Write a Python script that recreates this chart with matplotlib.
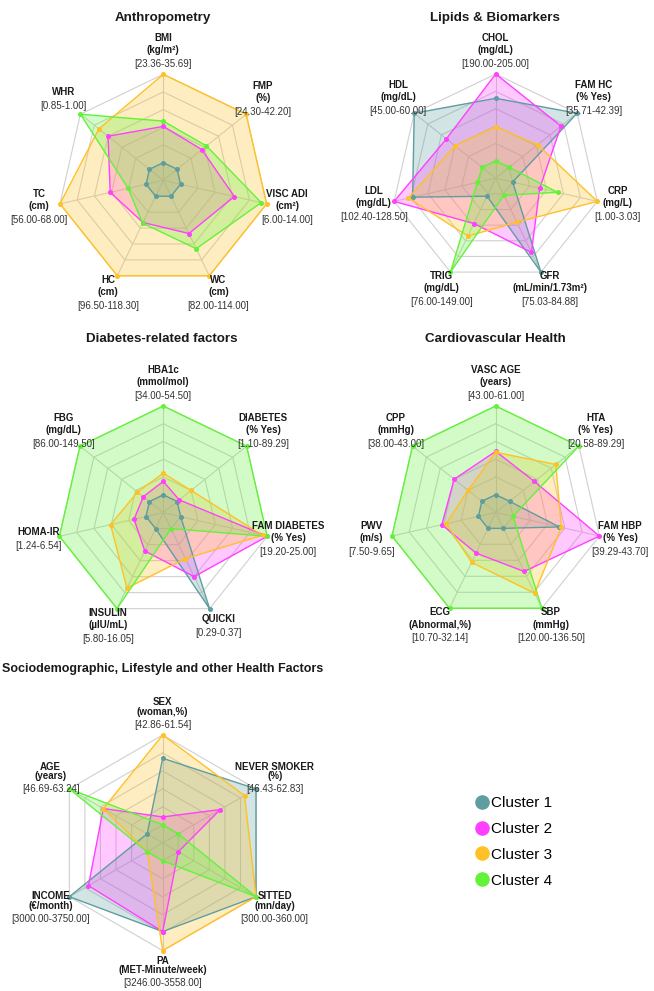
import matplotlib
matplotlib.use("Agg")
import matplotlib.pyplot as plt
from matplotlib.lines import Line2D
import numpy as np

plt.rcParams['font.family'] = ['Liberation Sans', 'DejaVu Sans']

W, H = 654, 991

clusters = ["Cluster 1", "Cluster 2", "Cluster 3", "Cluster 4"]
colors = ["#5F9EA0", "#FF40FF", "#FFC125", "#63F23A"]

# ---------------- Anthropometry ----------------
anthro_vars = ["BMI", "WHR", "TC", "HC", "WC", "VISC ADI", "FMP"]
anthro_units = ["(kg/m²)", "", "(cm)", "(cm)", "(cm)", "(cm²)", "(%)"]
anthro_min = [23.36, 0.85, 56.00, 96.50, 82.00, 6.00, 24.30]
anthro_max = [35.69, 1.00, 68.00, 118.30, 114.00, 14.00, 42.20]
anthro_c1 = [23.36, 0.85, 56.00, 96.50, 82.00, 6.00, 24.30]
anthro_c2 = [28.42, 0.94, 61.0, 103.7, 97.0, 11.0, 30.7]
anthro_c3 = [35.69, 0.96, 68.00, 118.30, 114.00, 14.00, 42.20]
anthro_c4 = [29.16, 1.00, 58.5, 103.9, 103.1, 13.5, 31.9]

# ---------------- Lipids & Biomarkers ----------------
lipid_vars = ["CHOL", "HDL", "LDL", "TRIG", "GFR", "CRP", "FAM HC"]
lipid_units = ["(mg/dL)", "(mg/dL)", "(mg/dL)", "(mg/dL)", "(mL/min/1.73m²)", "(mg/L)", "(% Yes)"]
lipid_min = [190.00, 45.00, 102.40, 76.00, 75.03, 1.00, 35.71]
lipid_max = [205.00, 60.00, 128.50, 149.00, 84.88, 3.03, 42.39]
lipid_c1 = [200.8, 60.0, 122.8, 78.2, 84.88, 1.00, 42.39]
lipid_c2 = [205.0, 52.9, 128.5, 103.7, 82.4, 1.65, 40.8]
lipid_c3 = [195.9, 51.0, 124.1, 115.4, 78.6, 3.03, 38.5]
lipid_c4 = [190.0, 45.0, 102.8, 149.0, 75.2, 2.08, 35.71]

# ---------------- Diabetes-related factors ----------------
diab_vars = ["HBA1c", "FBG", "HOMA-IR", "INSULIN", "QUICKI", "FAM DIABETES", "DIABETES"]
diab_units = ["(mmol/mol)", "(mg/dL)", "", "(µIU/mL)", "", "(% Yes)", "(% Yes)"]
diab_min = [34.00, 86.00, 1.24, 5.80, 0.29, 19.20, 1.10]
diab_max = [54.50, 149.50, 6.54, 16.05, 0.37, 25.00, 89.29]
diab_c1 = [34.0, 86.0, 1.24, 5.80, 0.37, 19.20, 1.10]
diab_c2 = [37.1, 91.6, 1.97, 8.67, 0.338, 25.00, 3.7]
diab_c3 = [39.0, 96.9, 3.41, 13.42, 0.320, 24.69, 18.7]
diab_c4 = [54.5, 149.5, 6.54, 16.05, 0.29, 25.00, 89.29]

# ---------------- Cardiovascular Health ----------------
cardio_vars = ["VASC AGE", "CPP", "PWV", "ECG", "SBP", "FAM HBP", "HTA"]
cardio_units = ["(years)", "(mmHg)", "(m/s)", "(Abnormal,%)", "(mmHg)", "(% Yes)", "(% Yes)"]
cardio_min = [43.00, 38.00, 7.50, 10.70, 120.00, 39.29, 20.58]
cardio_max = [61.00, 43.00, 9.65, 32.14, 136.50, 43.70, 89.29]
cardio_c1 = [43.0, 38.0, 7.50, 10.70, 120.0, 41.65, 20.58]
cardio_c2 = [51.8, 40.0, 8.41, 17.35, 128.9, 43.70, 45.25]
cardio_c3 = [51.6, 39.0, 8.30, 19.83, 133.4, 41.76, 66.4]
cardio_c4 = [61.0, 43.0, 9.65, 32.14, 136.5, 39.29, 89.29]

# ---------------- Sociodemographic ----------------
socio_vars = ["SEX", "AGE", "INCOME", "PA", "SITTED", "NEVER SMOKER"]
socio_units = ["(woman,%)", "(years)", "(€/month)", "(MET-Minute/week)", "(mn/day)", "(%)"]
socio_min = [42.86, 46.69, 3000.00, 3246.00, 300.00, 46.43]
socio_max = [61.54, 63.24, 3750.00, 3558.00, 360.00, 62.83]
socio_c1 = [56.7, 46.69, 3750.0, 3492.0, 360.0, 62.83]
socio_c2 = [44.5, 56.0, 3566.0, 3492.0, 300.0, 55.3]
socio_c3 = [61.54, 56.0, 3000.0, 3558.0, 360.0, 60.4]
socio_c4 = [42.86, 63.24, 3000.0, 3246.0, 360.0, 46.43]

GRID = "#D0D0D0"
SEG = 5

fig = plt.figure(figsize=(W / 100, H / 100), dpi=100)


def radar(cx, cy, R, names, units, vmin, vmax, data, bold_gap=12.3, br_gap=13.8, yshift=2.0):
    n = len(names)
    ang = np.deg2rad(90 + np.arange(n) * 360.0 / n)
    ext = 1.8
    ax = fig.add_axes([(cx - ext * R) / W, 1 - (cy + ext * R) / H, 2 * ext * R / W, 2 * ext * R / H])
    ax.set_xlim(-ext, ext)
    ax.set_ylim(-ext, ext)
    ax.axis('off')
    ax.patch.set_visible(False)
    cosa, sina = np.cos(ang), np.sin(ang)
    for k in range(1, SEG + 2):
        lv = k / (SEG + 1)
        ax.plot(np.append(lv * cosa, lv * cosa[0]), np.append(lv * sina, lv * sina[0]),
                color=GRID, lw=0.8, zorder=1)
    for c, s in zip(cosa, sina):
        ax.plot([0, c], [0, s], color=GRID, lw=0.8, zorder=1)
    vmin = np.array(vmin, float)
    vmax = np.array(vmax, float)
    for vals, col in zip(data, colors):
        v = (np.array(vals, float) - vmin) / (vmax - vmin)
        r = (1 + SEG * v) / (SEG + 1)
        x, y = r * cosa, r * sina
        ax.fill(x, y, color=col, alpha=0.28, lw=0, zorder=2)
        ax.plot(np.append(x, x[0]), np.append(y, y[0]), color=col, lw=1.0, zorder=3)
        ax.plot(x, y, 'o', ms=2.6, color=col, zorder=4)
    for i in range(n):
        bold_lines = [names[i]] + ([units[i]] if units[i] else [])
        nb = len(bold_lines)
        pos = [j * bold_gap for j in range(nb)] + [(nb - 1) * bold_gap + br_gap]
        mid = pos[-1] / 2.0
        ax_x = 1.2 * cosa[i]
        ax_y = 1.2 * sina[i] + yshift / R
        texts = bold_lines + ["[%.2f-%.2f]" % (vmin[i], vmax[i])]
        for j, (t, p) in enumerate(zip(texts, pos)):
            is_br = j == len(texts) - 1
            ax.text(ax_x, ax_y + (mid - p) / R, t, ha='center', va='center',
                    fontsize=7, fontweight='normal' if is_br else 'bold',
                    color='#333333' if is_br else '#1a1a1a', clip_on=False, zorder=5)
    return ax


radar(163.3, 180.3, 106.0, anthro_vars, anthro_units, anthro_min, anthro_max,
      [anthro_c1, anthro_c2, anthro_c3, anthro_c4])
radar(495.7, 178.2, 104.2, lipid_vars, lipid_units, lipid_min, lipid_max,
      [lipid_c1, lipid_c2, lipid_c3, lipid_c4])
radar(163.3, 512.6, 106.6, diab_vars, diab_units, diab_min, diab_max,
      [diab_c1, diab_c2, diab_c3, diab_c4])
radar(495.7, 512.4, 106.4, cardio_vars, cardio_units, cardio_min, cardio_max,
      [cardio_c1, cardio_c2, cardio_c3, cardio_c4])
radar(162.7, 842.8, 107.8, socio_vars, socio_units, socio_min, socio_max,
      [socio_c1, socio_c2, socio_c3, socio_c4], bold_gap=9.3, br_gap=13.0, yshift=0.0)

titles = [("Anthropometry", 163, 18, 'center', 9.6),
          ("Lipids & Biomarkers", 495, 18, 'center', 9.6),
          ("Diabetes-related factors", 162, 339, 'center', 9.6),
          ("Cardiovascular Health", 495, 339, 'center', 9.6),
          ("Sociodemographic, Lifestyle and other Health Factors", 2, 669, 'left', 9.0)]
for t, x, y, ha, fs in titles:
    fig.text(x / W, 1 - y / H, t, ha=ha, va='center', fontsize=fs, fontweight='bold', color='#1a1a1a')

handles = [Line2D([], [], marker='o', linestyle='none', color=c, markersize=9.5) for c in colors]
fig.legend(handles, clusters, loc='upper left', bbox_to_anchor=(476 / W, 1 - 796 / H),
           frameon=False, fontsize=11, handlelength=0.8, handletextpad=0.15,
           labelspacing=0.78, borderpad=0, borderaxespad=0)

fig.savefig("out.png", dpi=100)
